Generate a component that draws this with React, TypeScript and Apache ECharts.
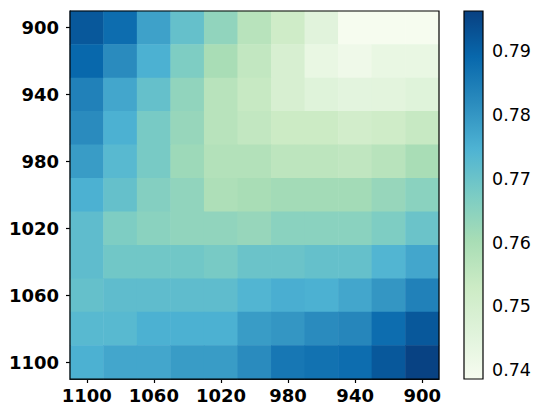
import React, { useEffect, useRef } from "react";
import * as echarts from "echarts";

const xLabels = ["1100", "1080", "1060", "1040", "1020", "1000", "980", "960", "940", "920", "900"];
const yLabels = ["900", "920", "940", "960", "980", "1000", "1020", "1040", "1060", "1080", "1100"];

// each row: values left-to-right (x = 1100 ... 900)
const row900 = [0.792, 0.788, 0.778, 0.771, 0.764, 0.757, 0.752, 0.7455, 0.739, 0.739, 0.7388];
const row920 = [0.789, 0.782, 0.775, 0.767, 0.760, 0.755, 0.749, 0.743, 0.741, 0.743, 0.743];
const row940 = [0.784, 0.777, 0.771, 0.764, 0.757, 0.754, 0.749, 0.746, 0.7448, 0.745, 0.746];
const row960 = [0.782, 0.775, 0.768, 0.763, 0.757, 0.755, 0.753, 0.753, 0.751, 0.752, 0.754];
const row980 = [0.779, 0.773, 0.768, 0.762, 0.758, 0.758, 0.756, 0.756, 0.7555, 0.757, 0.760];
const row1000 = [0.775, 0.771, 0.766, 0.764, 0.759, 0.760, 0.761, 0.761, 0.761, 0.763, 0.765];
const row1020 = [0.772, 0.767, 0.765, 0.764, 0.764, 0.763, 0.765, 0.765, 0.765, 0.767, 0.770];
const row1040 = [0.772, 0.769, 0.769, 0.769, 0.768, 0.770, 0.770, 0.771, 0.771, 0.774, 0.777];
const row1060 = [0.771, 0.772, 0.772, 0.772, 0.772, 0.774, 0.7755, 0.775, 0.777, 0.780, 0.784];
const row1080 = [0.773, 0.773, 0.775, 0.775, 0.775, 0.779, 0.780, 0.782, 0.783, 0.788, 0.792];
const row1100 = [0.775, 0.777, 0.777, 0.779, 0.779, 0.782, 0.786, 0.787, 0.788, 0.792, 0.796];

const rows = [row900, row920, row940, row960, row980, row1000, row1020, row1040, row1060, row1080, row1100];

const colorMin = 0.7386;
const colorMax = 0.7963;
const colorbarTicks = [0.74, 0.75, 0.76, 0.77, 0.78, 0.79];
const gnbu = ["#f7fcf0", "#e0f3db", "#ccebc5", "#a8ddb5", "#7bccc4", "#4eb3d3", "#2b8cbe", "#0868ac", "#084081"];

export default function App() {
  const ref = useRef<HTMLDivElement>(null);
  useEffect(() => {
    document.body.style.margin = "0";
    if (!ref.current) return;
    const chart = echarts.init(ref.current, null, { renderer: "svg" });
    const data: number[][] = [];
    rows.forEach((r, yi) => r.forEach((v, xi) => data.push([xi, yi, v])));

    const gL = 70, gT = 11, gR = 103, gB = 38;
    const cbL = 464, cbW = 19;
    const H = 417;

    const font = "DejaVu Sans";
    chart.setOption({
      animation: false,
      backgroundColor: "#ffffff",
      grid: [
        { left: gL, top: gT, right: gR, bottom: gB, show: true, borderColor: "#000", borderWidth: 1.2, z: 5 },
        { left: cbL, top: gT, width: cbW, bottom: gB, show: false },
      ],
      xAxis: [
        {
          type: "category",
          data: xLabels,
          gridIndex: 0,
          position: "bottom",
          axisLine: { show: true, lineStyle: { color: "#000", width: 1.2 } },
          axisTick: { show: true, interval: 1, alignWithLabel: true, length: 4, lineStyle: { color: "#000", width: 1.2 } },
          axisLabel: { interval: 1, color: "#000", fontSize: 18, fontWeight: "bold", fontFamily: font, margin: 7 },
          splitLine: { show: false },
        },
        { type: "value", gridIndex: 1, show: false, min: 0, max: 1 },
      ],
      yAxis: [
        {
          type: "category",
          data: yLabels,
          gridIndex: 0,
          inverse: true,
          axisLine: { show: true, lineStyle: { color: "#000", width: 1.2 } },
          axisTick: { show: true, interval: 1, alignWithLabel: true, length: 4, lineStyle: { color: "#000", width: 1.2 } },
          axisLabel: { interval: 1, color: "#000", fontSize: 18, fontWeight: "bold", fontFamily: font, margin: 11 },
          splitLine: { show: false },
        },
        {
          type: "value",
          gridIndex: 1,
          position: "right",
          min: colorMin,
          max: colorMax,
          axisLine: { show: false },
          axisTick: { show: true, customValues: colorbarTicks, length: 4, lineStyle: { color: "#000", width: 1.2 } },
          axisLabel: {
            customValues: colorbarTicks,
            color: "#000",
            fontSize: 17.5,
            fontFamily: font,
            margin: 9,
            formatter: (v: number) => v.toFixed(2),
          },
          splitLine: { show: false },
        },
      ],
      visualMap: {
        show: false,
        type: "continuous",
        min: colorMin,
        max: colorMax,
        seriesIndex: 0,
        inRange: { color: gnbu },
      },
      graphic: [
        {
          type: "rect",
          z: 10,
          shape: { x: cbL, y: gT, width: cbW, height: H - gT - gB },
          style: {
            fill: new echarts.graphic.LinearGradient(0, 1, 0, 0, gnbu.map((c, i) => ({ offset: i / (gnbu.length - 1), color: c }))),
            stroke: "#000",
            lineWidth: 1.2,
          },
        },
      ],
      series: [
        {
          type: "heatmap",
          xAxisIndex: 0,
          yAxisIndex: 0,
          data,
          itemStyle: { borderWidth: 0 },
          emphasis: { disabled: true },
        },
      ],
    });
    return () => chart.dispose();
  }, []);
  return <div ref={ref} style={{ width: 542, height: 417 }} />;
}
